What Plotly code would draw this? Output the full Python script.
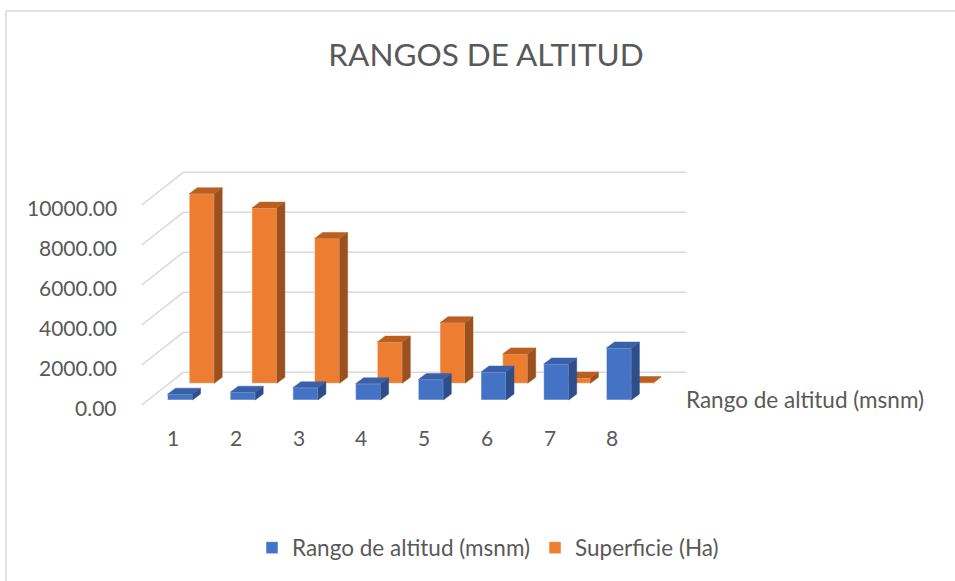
import plotly.graph_objects as go

# data
categories = ["1", "2", "3", "4", "5", "6", "7", "8"]
rango_altitud = [290, 390, 610, 810, 1020, 1400, 1800, 2600]
superficie = [9480, 8760, 7240, 2060, 3030, 1470, 260, 40]
y_ticks = [0, 2000, 4000, 6000, 8000, 10000]
y_tick_text = ["0.00", "2000.00", "4000.00", "6000.00", "8000.00", "10000.00"]

FONT = "Lato"
TEXT = "#595959"
GRID = "#D9D9D9"

# fake 3D geometry (axis units): 1 category = 62.7 px, 50 value units = 1 px
PX = 62.7
UPX = 50.0
half_w = 12.5 / PX
dx = 8 / PX                # bar depth, to the right
dy = 6 * UPX               # bar depth, upwards
row_dx = 21.7 / PX         # back row offset
row_dy = 16.7 * UPX
wall_dx = (183.3 - 180) / PX
wall_dy = 27.7 * UPX
floor_dx = (141.7 - 180) / PX
floor_dy = -5 * UPX
x_pos = [i + 1 for i in range(len(categories))]

x_range = [1 - 180 / PX, 1 + (955 - 180) / PX]
y_range = [-(581 - 400) * UPX, 400 * UPX]


def faces(xs, vals, base):
    side_x, side_y, top_x, top_y = [], [], [], []
    for x, v in zip(xs, vals):
        r = x + half_w
        l = x - half_w
        side_x += [r, r + dx, r + dx, r, r, None]
        side_y += [base, base + dy, base + v + dy, base + v, base, None]
        top_x += [l, r, r + dx, l + dx, l, None]
        top_y += [base + v, base + v, base + v + dy, base + v + dy, base + v, None]
    return side_x, side_y, top_x, top_y


fig = go.Figure()

series = [
    ("Superficie (Ha)", superficie, row_dx, row_dy, "#ED7D31", "#9C501E", "#BA5F20", "x", "y", 2),
    ("Rango de altitud (msnm)", rango_altitud, 0, 0, "#4472C4", "#2D4E8A", "#3A61A8", "x2", "y2", 1),
]
for name, vals, ox, oy, c_front, c_side, c_top, xa, ya, rank in series:
    xs = [x + ox for x in x_pos]
    fig.add_trace(go.Bar(
        name=name, x=xs, y=vals, base=oy, width=2 * half_w,
        marker=dict(color=c_front, line=dict(color="rgba(255,255,255,0.5)", width=1)),
        xaxis=xa, yaxis=ya, legendrank=rank,
        customdata=categories, hovertemplate="%{customdata}: %{y:.2f}<extra>" + name + "</extra>",
    ))
    sx, sy, tx, ty = faces(xs, vals, oy)
    fig.add_trace(go.Scatter(x=sx, y=sy, fill="toself", fillcolor=c_side, mode="lines",
                             line=dict(color=c_side, width=0.5), showlegend=False,
                             hoverinfo="skip", xaxis=xa, yaxis=ya))
    fig.add_trace(go.Scatter(x=tx, y=ty, fill="toself", fillcolor=c_top, mode="lines",
                             line=dict(color=c_top, width=0.5), showlegend=False,
                             hoverinfo="skip", xaxis=xa, yaxis=ya))

# walls: back gridlines and side-wall diagonals
for v, label in zip(y_ticks, y_tick_text):
    fig.add_shape(type="line", xref="x", yref="y", layer="below",
                  x0=1 + wall_dx, y0=v + wall_dy, x1=1 + (686 - 180) / PX, y1=v + wall_dy,
                  line=dict(color=GRID, width=1.5))
    fig.add_shape(type="line", xref="x", yref="y", layer="below",
                  x0=1 + floor_dx, y0=v + floor_dy, x1=1 + wall_dx, y1=v + wall_dy,
                  line=dict(color=GRID, width=1.5))
    fig.add_annotation(x=1 + (119 - 180) / PX, y=v + floor_dy - 2 * UPX, xref="x", yref="y",
                       text=label, showarrow=False,
                       xanchor="right", yanchor="middle", font=dict(size=21, color=TEXT))

for x, c in zip(x_pos, categories):
    fig.add_annotation(x=x - 6.7 / PX, y=-37 * UPX, xref="x", yref="y", text=c,
                       showarrow=False, xanchor="center", yanchor="middle",
                       font=dict(size=21, color=TEXT))

fig.add_annotation(x=1 + (684 - 180) / PX, y=1 * UPX, xref="x", yref="y",
                   text="Rango de altitud (msnm)", showarrow=False,
                   xanchor="left", yanchor="middle", font=dict(size=22.5, color=TEXT))

# chart frame
fig.add_shape(type="rect", xref="paper", yref="paper", x0=6 / 955, x1=1.02,
              y0=-0.02, y1=1 - 11 / 581, line=dict(color=GRID, width=1.5), layer="below")

axis_style = dict(visible=False, fixedrange=True)
fig.update_layout(
    width=955, height=581,
    margin=dict(l=0, r=0, t=0, b=0),
    paper_bgcolor="white", plot_bgcolor="rgba(0,0,0,0)",
    font=dict(family=FONT, color=TEXT),
    barmode="overlay",
    title=dict(text="RANGOS DE ALTITUD", x=486 / 955, xanchor="center",
               y=1 - 55 / 581, yanchor="middle", font=dict(size=31.5, color=TEXT)),
    xaxis=dict(range=x_range, **axis_style),
    yaxis=dict(range=y_range, **axis_style),
    xaxis2=dict(range=x_range, overlaying="x", **axis_style),
    yaxis2=dict(range=y_range, overlaying="y", **axis_style),
    showlegend=True,
    legend=dict(orientation="h", x=488 / 955, xanchor="center", y=1 - 548 / 581,
                yanchor="middle", font=dict(size=22.5, color=TEXT), itemwidth=30,
                bgcolor="rgba(0,0,0,0)"),
)

fig.write_html("out.html", config={"displayModeBar": False},
               post_script="document.body.style.margin = '0';")
